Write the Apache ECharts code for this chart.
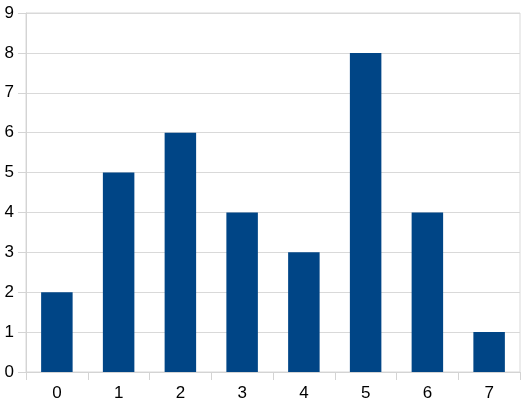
<!DOCTYPE html>
<html><head><meta charset="utf-8">
<script src="https://cdn.jsdelivr.net/npm/echarts@6/dist/echarts.min.js"></script>
<style>html,body{margin:0;padding:0;background:#fff}#c{width:526px;height:407px}</style>
</head><body><div id="c"></div>
<script>
const categories = ['0','1','2','3','4','5','6','7'];
const values = [2, 5, 6, 4, 3, 8, 4, 1];
const chart = echarts.init(document.getElementById('c'), null, {renderer:'canvas'});
chart.setOption({
  animation:false,
  grid:{left:26, right:6, top:13, bottom:35, containLabel:false, show:true, borderColor:'#d9d9d9', borderWidth:1},
  xAxis:{type:'category', data:categories,
    axisLine:{show:true, lineStyle:{color:'#d4d4d4'}},
    axisTick:{show:true, length:8, lineStyle:{color:'#d4d4d4'}},
    axisLabel:{color:'#000', fontFamily:'Liberation Sans', fontSize:17, margin:13},
    splitLine:{show:false}
  },
  yAxis:{type:'value', min:0, max:9, interval:1,
    axisLine:{show:true, lineStyle:{color:'#d4d4d4'}},
    axisTick:{show:true, length:8, lineStyle:{color:'#d4d4d4'}},
    axisLabel:{color:'#000', fontFamily:'Liberation Sans', fontSize:17, margin:12},
    splitLine:{show:true, lineStyle:{color:'#d9d9d9'}}
  },
  series:[{type:'bar', data:values, barWidth:'51%', itemStyle:{color:'#004586'}}]
});
</script></body></html>
